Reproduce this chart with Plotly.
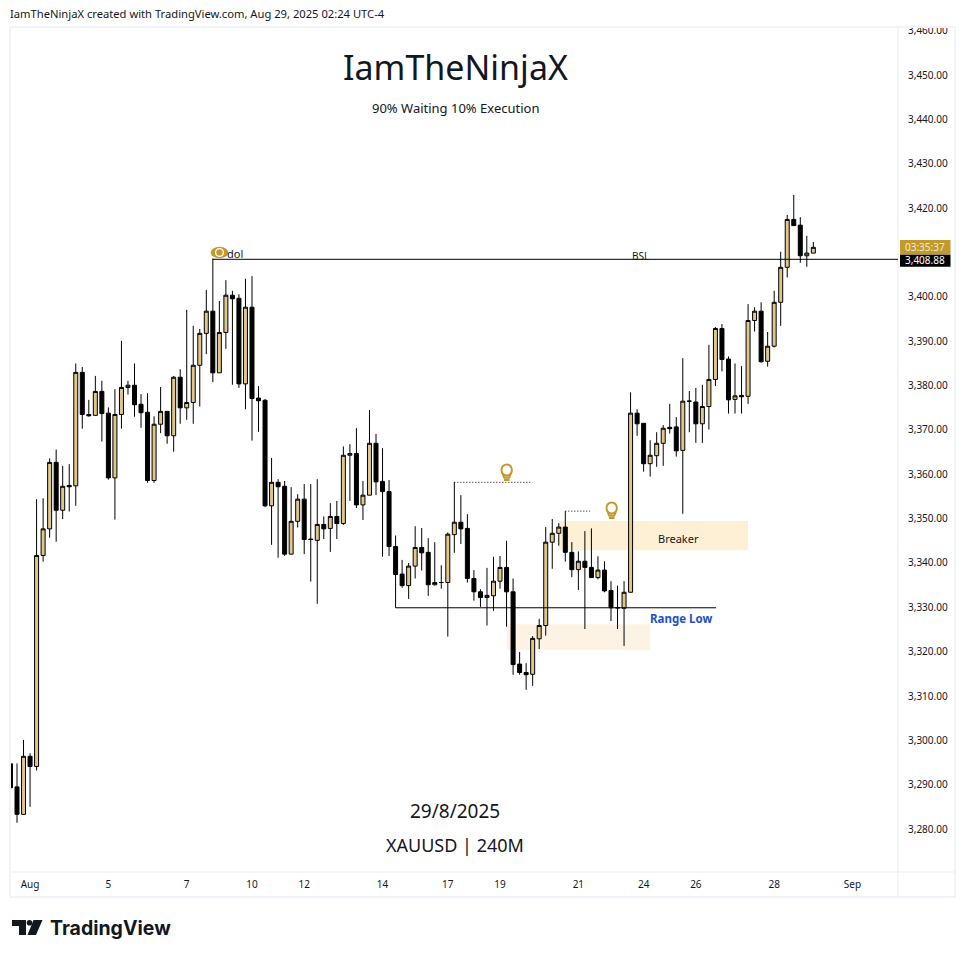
import plotly.graph_objects as go

FONT = "Noto Sans"
TEXT = "#131722"
GOLD = "#DFC68D"
ICON = "#C6992F"
FRAME = "#F0F3FA"

# 4H bars, starting just before Aug 1
opens = [
    3294.7, 3289.5, 3283.3, 3296.4, 3294.1, 3341.7, 3347.7, 3362.7, 3351.9, 3357.5,
    3357.4, 3383.0, 3373.5, 3373.3, 3378.7, 3373.8, 3359.2, 3373.5, 3379.6, 3380.1,
    3375.8, 3374.0, 3358.6, 3371.3, 3374.2, 3368.7, 3381.9, 3375.0, 3376.2, 3384.6,
    3391.8, 3396.8, 3382.9, 3392.0, 3400.4, 3399.7, 3380.4, 3397.7, 3377.2, 3376.7,
    3352.9, 3358.2, 3357.3, 3342.0, 3349.4, 3354.4, 3345.4, 3345.1, 3348.7, 3347.8,
    3350.5, 3348.9, 3364.3, 3364.7, 3353.1, 3355.3, 3367.0, 3358.4, 3356.1, 3343.7,
    3337.5, 3334.9, 3339.3, 3343.5, 3342.4, 3335.1, 3335.6, 3335.6, 3346.4, 3349.2,
    3347.8, 3336.5, 3333.5, 3332.2, 3332.6, 3335.9, 3339.0, 3333.5, 3317.2, 3315.3,
    3314.9, 3322.9, 3325.9, 3344.7, 3346.7, 3348.1, 3342.4, 3338.5, 3340.4, 3339.0,
    3336.7, 3338.4, 3333.8, 3329.9, 3329.8, 3333.4, 3373.8, 3371.5, 3362.4, 3364.2,
    3367.0, 3370.6, 3370.7, 3365.4, 3376.5, 3376.3, 3371.4, 3375.3, 3381.4, 3392.9,
    3386.0, 3376.9, 3377.8, 3377.6, 3394.7, 3396.8, 3385.5, 3388.9, 3398.8, 3406.7,
    3417.5, 3416.2, 3409.3, 3409.9,
]
highs = [
    3296.9, 3294.8, 3300.1, 3297.1, 3354.4, 3354.6, 3363.6, 3365.6, 3361.9, 3362.3,
    3385.0, 3384.2, 3376.8, 3382.2, 3381.1, 3375.1, 3379.2, 3390.1, 3381.1, 3385.0,
    3378.1, 3378.3, 3373.1, 3379.7, 3374.2, 3382.2, 3383.7, 3397.1, 3393.5, 3392.8,
    3401.6, 3408.7, 3399.1, 3403.8, 3401.4, 3400.6, 3404.1, 3404.7, 3379.9, 3377.0,
    3363.7, 3358.9, 3358.5, 3357.1, 3355.5, 3357.8, 3357.8, 3358.9, 3350.5, 3353.5,
    3354.0, 3366.3, 3366.8, 3370.4, 3358.5, 3374.5, 3369.1, 3365.9, 3358.7, 3346.2,
    3340.7, 3340.0, 3348.3, 3347.9, 3345.6, 3344.7, 3339.5, 3346.9, 3358.2, 3355.3,
    3351.0, 3338.4, 3334.1, 3338.9, 3341.4, 3341.6, 3345.0, 3336.5, 3319.9, 3317.4,
    3323.5, 3327.4, 3348.1, 3349.9, 3349.0, 3351.7, 3344.7, 3342.6, 3347.2, 3347.8,
    3341.5, 3340.4, 3335.9, 3334.9, 3335.9, 3378.5, 3374.7, 3371.5, 3367.7, 3369.5,
    3371.1, 3375.9, 3372.9, 3386.2, 3378.8, 3379.5, 3380.2, 3389.2, 3393.2, 3393.9,
    3386.6, 3385.0, 3384.4, 3398.4, 3397.7, 3398.8, 3392.1, 3401.4, 3410.2, 3418.5,
    3423.0, 3418.0, 3413.8, 3412.4,
]
lows = [
    3289.3, 3281.4, 3283.3, 3285.0, 3293.2, 3340.3, 3345.7, 3344.8, 3349.9, 3351.6,
    3352.9, 3370.3, 3373.0, 3373.3, 3367.4, 3358.8, 3349.8, 3370.3, 3378.0, 3373.0,
    3370.5, 3358.1, 3358.1, 3369.3, 3366.9, 3365.1, 3371.4, 3372.3, 3371.4, 3375.3,
    3387.1, 3380.8, 3382.9, 3388.3, 3380.2, 3379.5, 3374.7, 3367.6, 3369.6, 3352.6,
    3344.1, 3341.2, 3341.6, 3342.0, 3348.0, 3342.0, 3335.8, 3330.8, 3345.4, 3342.5,
    3345.4, 3348.6, 3354.0, 3352.4, 3349.7, 3355.3, 3355.3, 3341.4, 3341.6, 3329.9,
    3334.4, 3331.9, 3336.5, 3338.3, 3332.6, 3334.9, 3334.2, 3323.4, 3342.3, 3344.3,
    3335.6, 3331.5, 3330.1, 3325.9, 3329.2, 3334.2, 3325.6, 3314.8, 3314.8, 3311.4,
    3312.3, 3320.6, 3323.6, 3338.7, 3343.9, 3340.3, 3336.8, 3333.9, 3325.1, 3336.7,
    3336.3, 3333.4, 3326.9, 3325.1, 3321.3, 3333.4, 3368.7, 3360.6, 3359.5, 3361.7,
    3361.9, 3369.2, 3364.0, 3351.1, 3369.5, 3367.1, 3367.1, 3370.1, 3379.9, 3383.2,
    3373.7, 3373.7, 3373.7, 3375.9, 3392.2, 3385.2, 3384.3, 3388.6, 3393.5, 3404.4,
    3416.1, 3407.7, 3406.8, 3409.9,
]
closes = [
    3289.3, 3283.3, 3296.4, 3294.1, 3341.7, 3347.7, 3362.7, 3351.9, 3357.3, 3357.2,
    3383.0, 3373.5, 3373.2, 3378.7, 3373.7, 3359.2, 3373.5, 3379.6, 3380.1, 3375.7,
    3373.9, 3358.6, 3371.3, 3374.2, 3368.7, 3381.9, 3375.0, 3376.2, 3384.6, 3391.8,
    3396.8, 3382.9, 3392.0, 3400.4, 3399.6, 3380.4, 3397.7, 3377.1, 3376.6, 3352.9,
    3358.2, 3357.2, 3342.0, 3349.4, 3354.4, 3345.3, 3345.3, 3348.7, 3347.7, 3350.5,
    3348.9, 3364.3, 3364.7, 3353.1, 3355.3, 3367.0, 3358.3, 3356.1, 3343.7, 3337.4,
    3334.9, 3339.3, 3343.5, 3342.3, 3335.1, 3335.6, 3335.6, 3346.5, 3349.2, 3347.7,
    3336.5, 3333.5, 3332.2, 3332.7, 3335.9, 3339.0, 3333.5, 3317.1, 3315.3, 3314.8,
    3323.0, 3325.9, 3344.7, 3346.7, 3348.1, 3342.4, 3338.5, 3340.4, 3339.0, 3336.7,
    3338.4, 3333.7, 3329.9, 3329.9, 3333.4, 3373.8, 3371.4, 3362.4, 3364.3, 3367.0,
    3370.4, 3370.3, 3365.3, 3376.5, 3376.5, 3371.4, 3375.3, 3381.4, 3392.9, 3385.9,
    3376.8, 3377.7, 3377.5, 3394.7, 3396.8, 3385.4, 3388.9, 3398.8, 3406.7, 3417.5,
    3416.1, 3409.3, 3409.9, 3411.2,
]
bars = list(range(len(opens)))

date_ticks = [3, 15, 27, 37, 45, 57, 67, 75, 87, 97, 105, 117, 129]
date_labels = ["Aug", "5", "7", "10", "12", "14", "17", "19", "21", "24", "26", "28", "Sep"]
price_ticks = [3280, 3290, 3300, 3310, 3320, 3330, 3340, 3350, 3360, 3370, 3380,
               3390, 3400, 3420, 3430, 3440, 3450, 3460]

bsl_level = 3408.5
range_low = 3329.9

# page pixels of the pane, overlays are placed with these
LEFT, RIGHT, TOP, BOTTOM = 11, 898, 27, 872


def px(x):
    return (x - LEFT) / (RIGHT - LEFT)


def py(y):
    return (BOTTOM - y) / (BOTTOM - TOP)


def pane_rect(x0, y0, x1, y1, **kw):
    return dict(type="rect", xref="paper", yref="paper", x0=px(x0), x1=px(x1), y0=py(y0), y1=py(y1), **kw)


def pane_path(points, close=True, **kw):
    path = "M" + " L".join(f"{px(x):.5f},{py(y):.5f}" for x, y in points) + (" Z" if close else "")
    return dict(type="path", xref="paper", yref="paper", path=path, **kw)


def circle(cx, cy, rx, ry, **kw):
    return pane_rect(cx - rx, cy - ry, cx + rx, cy + ry, **kw) | dict(type="circle")


def bulb(cx, top):
    return [
        circle(cx, top + 6, 5.2, 5.6, line=dict(color=ICON, width=2)),
        pane_path([(cx - 4.2, top + 9.5), (cx - 2.6, top + 13.5), (cx + 2.6, top + 13.5), (cx + 4.2, top + 9.5)],
                  close=False, line=dict(color=ICON, width=2)),
        pane_rect(cx - 2.8, top + 14.5, cx + 2.8, top + 17, fillcolor=ICON, line_width=0),
    ]


def note(text, x, y, size, color=TEXT, xanchor="center", family=FONT):
    return dict(text=text, x=px(x), y=py(y), xref="paper", yref="paper", showarrow=False, xanchor=xanchor,
                yanchor="middle", font=dict(size=size, color=color, family=family))


fig = go.Figure(go.Candlestick(
    x=bars,
    open=opens,
    high=highs,
    low=lows,
    close=closes,
    increasing=dict(line=dict(color="black", width=1), fillcolor=GOLD),
    decreasing=dict(line=dict(color="black", width=1), fillcolor="black"),
    showlegend=False,
))

shapes = [
    # pane frame
    pane_rect(10, 27, 955, 897, line=dict(color=FRAME, width=2)),
    pane_rect(898, 27, 898, 897, line=dict(color=FRAME, width=1)),
    pane_rect(10, 872, 955, 872, line=dict(color=FRAME, width=1)),
    # zones
    dict(type="rect", x0=84, x1=113, y0=3342.9, y1=3349.5, fillcolor="#FDF0D5", line_width=0, layer="below"),
    dict(type="rect", x0=76.1, x1=98, y0=3320.4, y1=3326.2, fillcolor="#FDF3E4", line_width=0, layer="below"),
    # lines
    dict(type="line", x0=59, x1=108.1, y0=range_low, y1=range_low, line=dict(color="black", width=1)),
    dict(type="line", x0=31, x1=135.97, y0=bsl_level, y1=bsl_level, line=dict(color="black", width=1)),
    dict(type="line", x0=68, x1=80, y0=3358.2, y1=3358.2, line=dict(color="black", width=1, dash="1px,2px")),
    dict(type="line", x0=85, x1=88.8, y0=3351.7, y1=3351.7, line=dict(color="black", width=1, dash="1px,2px")),
    # price labels
    pane_rect(900, 240, 950.5, 254.7, fillcolor="#C09A2D", line_width=0),
    pane_rect(900, 254.7, 950.5, 266.7, fillcolor="black", line_width=0),
    # eye icon
    circle(219.5, 252.5, 8.8, 5.8, fillcolor=ICON, line_width=0),
    circle(219.5, 252.5, 4.6, 4.6, fillcolor="white", line_width=0),
    circle(219.5, 252.5, 3.2, 3.2, fillcolor=ICON, line_width=0),
    # TradingView logo
    pane_path([(12, 920), (26, 920), (26, 935), (19, 935), (19, 926), (12, 926)], fillcolor="#131722", line_width=0),
    circle(29.5, 922.8, 2.8, 2.8, fillcolor="#131722", line_width=0),
    pane_path([(33.5, 920), (42.5, 920), (36, 935), (27.5, 935)], fillcolor="#131722", line_width=0),
]
shapes += bulb(506.7, 464) + bulb(611.7, 502)

annotations = [
    note("IamTheNinjaX created with TradingView.com, Aug 29, 2025 02:24 UTC-4", 8, 13, 11.2, xanchor="left"),
    note("IamTheNinjaX", 455, 67, 34),
    note("90% Waiting 10% Execution", 455, 108, 13),
    note("29/8/2025", 455, 811, 19),
    note("XAUUSD | 240M", 455, 845, 18),
    note("Breaker", 678, 538, 11),
    note("<b>Range Low</b>", 681, 618, 11.5, color="#2450C6"),
    note("BSL", 640, 256, 10),
    note("dol", 235, 254, 11),
    note("03:35:37", 925, 247.5, 10, color="#F5EBD0"),
    note("3,408.88", 925, 259.5, 10, color="white"),
    note("<b>TradingView</b>", 48, 928, 19.5, xanchor="left", family="Inter"),
]

fig.update_layout(
    width=965,
    height=958,
    margin=dict(l=LEFT, r=965 - RIGHT, t=TOP, b=958 - BOTTOM, pad=0),
    paper_bgcolor="white",
    plot_bgcolor="white",
    font=dict(family=FONT, color=TEXT, size=10),
    boxgap=0.2,
    boxgroupgap=0.235,
    shapes=shapes,
    annotations=annotations,
)
fig.update_xaxes(
    range=[0.08, 135.97],
    rangeslider_visible=False,
    tickmode="array",
    tickvals=date_ticks,
    ticktext=date_labels,
    showgrid=False,
    zeroline=False,
    showline=False,
    ticks="",
    ticklabelstandoff=5,
    tickfont=dict(size=10, color=TEXT),
)
fig.update_yaxes(
    side="right",
    range=[3270.3, 3460.9],
    tickmode="array",
    tickvals=price_ticks,
    tickformat=",.2f",
    showgrid=False,
    zeroline=False,
    showline=False,
    ticks="",
    ticklabelstandoff=9,
    tickfont=dict(size=10, color=TEXT),
)

# the page's default body margin would push the figure off by 8px
fig.write_html("out.html", config={"displayModeBar": False}, post_script="document.body.style.margin = '0';")
